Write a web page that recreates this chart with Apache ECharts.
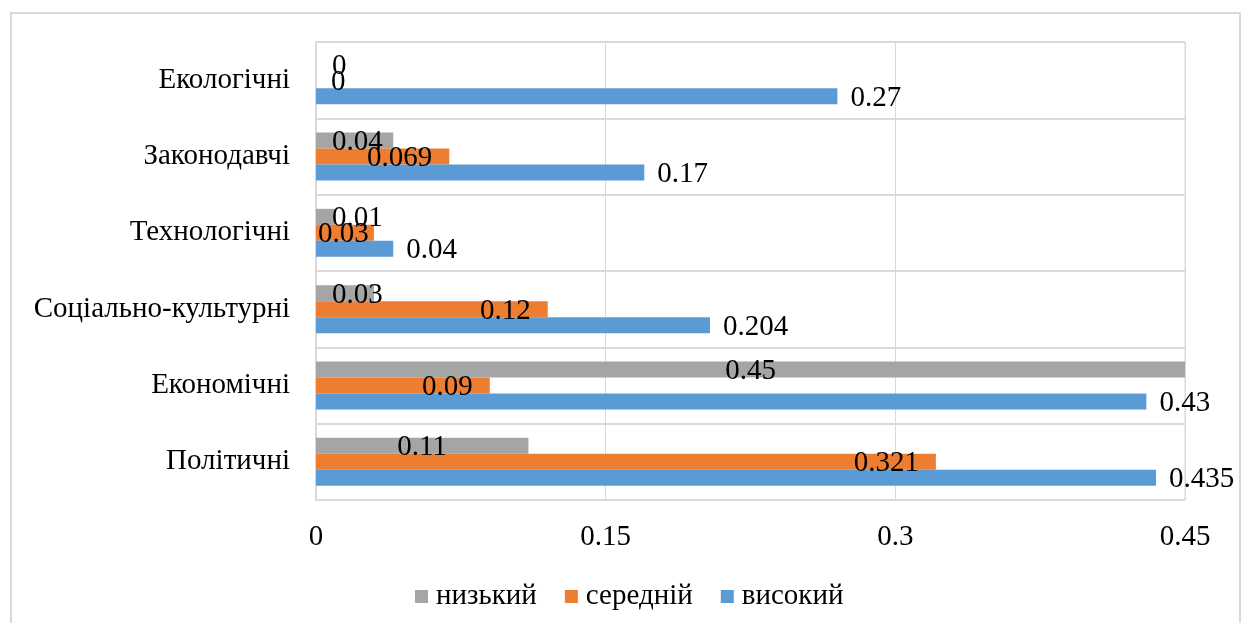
<!DOCTYPE html>
<html>
<head>
<meta charset="utf-8">
<script src="https://cdn.jsdelivr.net/npm/echarts@6/dist/echarts.min.js"></script>
<style>
  html, body { margin: 0; padding: 0; background: #fff; }
  #chart { width: 1247px; height: 623px; }
</style>
</head>
<body>
<div id="chart"></div>
<script>
// Categories, listed bottom to top along the vertical axis
const categories = ['Політичні', 'Економічні', 'Соціально-культурні', 'Технологічні', 'Законодавчі', 'Екологічні'];
const seriesNames = ['низький', 'середній', 'високий'];
const lowValues = [0.11, 0.45, 0.03, 0.01, 0.04, 0];
const midValues = [0.321, 0.09, 0.12, 0.03, 0.069, 0];
const highValues = [0.435, 0.43, 0.204, 0.04, 0.17, 0.27];
const xTicks = [0, 0.15, 0.3, 0.45];

const FONT = '"Liberation Serif", "Times New Roman", serif';
const LABEL_SIZE = 29;

// Short bars get their label pinned near the axis instead of centred / end-aligned
function lowLabel(v) {
  return v < 0.05 ? { position: 'insideLeft', distance: 16 } : { position: 'inside' };
}
function midLabel(v) {
  if (v === 0) return { position: 'insideLeft', distance: 15 };
  return v < 0.05 ? { position: 'insideLeft', distance: 2 } : { position: 'insideRight', distance: 17 };
}

function makeData(values, labelRule) {
  return values.map(v => ({ value: v, label: labelRule(v) }));
}

const baseLabel = {
  show: true,
  color: '#000',
  fontFamily: FONT,
  fontSize: LABEL_SIZE,
  offset: [0, 2]
};

const chart = echarts.init(document.getElementById('chart'));
chart.setOption({
  animation: false,
  graphic: [{
    type: 'rect',
    shape: { x: 11, y: 13, width: 1229, height: 640 },
    style: { fill: 'none', stroke: '#d9d9d9', lineWidth: 2 },
    silent: true
  }],
  grid: {
    left: 316, right: 62, top: 42, bottom: 123,
    show: true, borderColor: '#d9d9d9', borderWidth: 1
  },
  legend: {
    data: seriesNames,
    top: 577,
    left: 410,
    icon: 'rect',
    itemWidth: 13,
    itemHeight: 13,
    itemGap: 28,
    textStyle: { fontFamily: FONT, fontSize: LABEL_SIZE, color: '#000', padding: [0, 0, 0, 3] }
  },
  xAxis: {
    type: 'value',
    min: xTicks[0],
    max: xTicks[xTicks.length - 1],
    interval: xTicks[1] - xTicks[0],
    axisLine: { show: false },
    axisTick: { show: false },
    axisLabel: {
      margin: 23,
      color: '#000',
      fontFamily: FONT,
      fontSize: LABEL_SIZE,
      formatter: v => String(+v.toFixed(2))
    },
    splitLine: { show: true, lineStyle: { color: '#d9d9d9', width: 1 } }
  },
  yAxis: {
    type: 'category',
    data: categories,
    axisLine: { show: true, lineStyle: { color: '#d9d9d9', width: 2 } },
    axisTick: { show: false },
    axisLabel: { margin: 26, color: '#000', fontFamily: FONT, fontSize: LABEL_SIZE },
    splitLine: { show: true, lineStyle: { color: '#d9d9d9', width: 2 } }
  },
  series: [
    {
      name: seriesNames[0], type: 'bar', data: makeData(lowValues, lowLabel),
      barWidth: 16, barGap: '0%',
      itemStyle: { color: '#A5A5A5' },
      label: Object.assign({}, baseLabel)
    },
    {
      name: seriesNames[1], type: 'bar', data: makeData(midValues, midLabel),
      barWidth: 16, barGap: '0%',
      itemStyle: { color: '#ED7D31' },
      label: Object.assign({}, baseLabel)
    },
    {
      name: seriesNames[2], type: 'bar', data: highValues,
      barWidth: 16, barGap: '0%',
      itemStyle: { color: '#5B9BD5' },
      label: Object.assign({}, baseLabel, { position: 'right', distance: 13 })
    }
  ]
});
</script>
</body>
</html>
